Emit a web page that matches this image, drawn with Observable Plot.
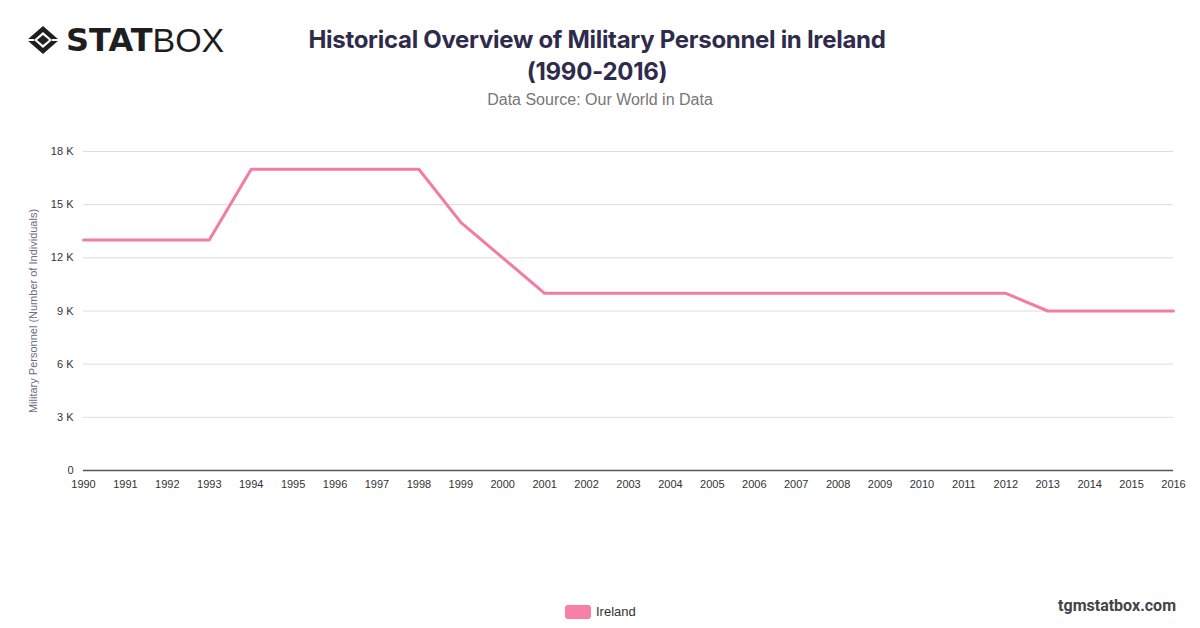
<!DOCTYPE html>
<html>
<head>
<meta charset="utf-8">
<script src="https://cdn.jsdelivr.net/npm/d3@7"></script>
<script src="https://cdn.jsdelivr.net/npm/@observablehq/plot@0.6"></script>
<style>
  html, body { margin: 0; padding: 0; background: #fff; }
  #wrap { position: relative; width: 1200px; height: 628px; overflow: hidden; font-family: Inter, "Helvetica Neue", Arial, sans-serif; }
  #logo { position: absolute; left: 26px; top: 22px; display: flex; align-items: center; }
  #logo .stat { font-family: "DejaVu Sans", Arial, sans-serif; font-weight: 900; font-size: 32px; color: #1e1e1e; letter-spacing: 0px; margin-left: 6px; line-height: 36px; }
  #logo .box { font-family: "Liberation Sans", Arial, sans-serif; font-weight: 400; font-size: 34px; color: #1e1e1e; line-height: 36px; }
  #title { position: absolute; left: 0; width: 1194px; top: 24px; text-align: center; font-weight: 700; font-size: 24px; line-height: 32px; color: #2f2c4b; letter-spacing: -0.3px; }
  #subtitle { position: absolute; left: 0; width: 1200px; top: 91px; text-align: center; font-size: 16px; color: #777; font-family: "Liberation Sans", Arial, sans-serif; }
  #chart { position: absolute; left: 0; top: 130px; }
  #legend { position: absolute; left: 565px; top: 604px; display: flex; align-items: center; font-family: "Liberation Sans", Arial, sans-serif; font-size: 13px; color: #333; }
  #legend .sw { width: 26px; height: 14px; border-radius: 3px; background: #f77fa8; margin-right: 5px; }
  #credit { position: absolute; right: 24px; top: 596px; font-family: Roboto, Arial, sans-serif; font-weight: 700; font-size: 16px; color: #444; }
</style>
</head>
<body>
<div id="wrap">
  <div id="logo">
    <svg width="34" height="30" viewBox="0 0 34 30">
      <polygon points="17,1 33,15 17,29 1,15" fill="#1e1e1e"/>
      <polygon points="17,7 26,15 17,23 8,15" fill="#fff"/>
      <polygon points="17,10 23,15 17,20 11,15" fill="#1e1e1e"/>
      <line x1="1" y1="15" x2="8" y2="15" stroke="#fff" stroke-width="2"/>
      <line x1="26" y1="15" x2="33" y2="15" stroke="#fff" stroke-width="2"/>
    </svg>
    <span class="stat">STAT</span><span class="box">BOX</span>
  </div>
  <div id="title">Historical Overview of Military Personnel in Ireland<br>(1990-2016)</div>
  <div id="subtitle">Data Source: Our World in Data</div>
  <div id="chart"></div>
  <div id="legend"><div class="sw"></div>Ireland</div>
  <div id="credit">tgmstatbox.com</div>
</div>
<script>
const years = [1990,1991,1992,1993,1994,1995,1996,1997,1998,1999,2000,2001,2002,2003,2004,2005,2006,2007,2008,2009,2010,2011,2012,2013,2014,2015,2016];
const personnel = [13000,13000,13000,13000,17000,17000,17000,17000,17000,14000,12000,10000,10000,10000,10000,10000,10000,10000,10000,10000,10000,10000,10000,9000,9000,9000,9000];
const yTicks = [0,3000,6000,9000,12000,15000,18000];
const seriesName = "Ireland";

const data = years.map((y, i) => ({year: y, value: personnel[i], series: seriesName}));

const fmt = v => v === 0 ? "0" : (v / 1000) + " K";

const chart = Plot.plot({
  width: 1200,
  height: 370,
  marginLeft: 83,
  marginRight: 27,
  marginTop: 21,
  marginBottom: 30,
  style: { fontFamily: "'Liberation Sans', Arial, sans-serif", fontSize: "11px", color: "#333", background: "transparent", overflow: "visible" },
  x: { type: "linear", domain: [1990, 2016], ticks: years, tickFormat: d => String(d), tickSize: 0, tickPadding: 10, label: null },
  y: { domain: [0, 18000], ticks: yTicks, tickFormat: fmt, tickSize: 0, tickPadding: 10, label: null },
  marks: [
    Plot.gridY(yTicks.filter(t => t > 0), { stroke: "#dcdcdc", strokeOpacity: 1, strokeWidth: 1 }),
    Plot.ruleY([0], { stroke: "#555", strokeWidth: 1.5 }),
    Plot.axisX({ ticks: years, tickFormat: d => String(d), tickSize: 0, tickPadding: 10, label: null, fill: "#333" }),
    Plot.axisY({ ticks: yTicks, tickFormat: fmt, tickSize: 0, tickPadding: 10, label: null, fill: "#333" }),
    Plot.line(data, { x: "year", y: "value", stroke: "#f17ca6", strokeWidth: 3 }),
    Plot.text(["Military Personnel (Number of Individuals)"], { frameAnchor: "left", dx: -50, rotate: -90, textAnchor: "middle", fill: "#6e6a8c", fontSize: 11 })
  ]
});
document.getElementById("chart").appendChild(chart);
</script>
</body>
</html>
